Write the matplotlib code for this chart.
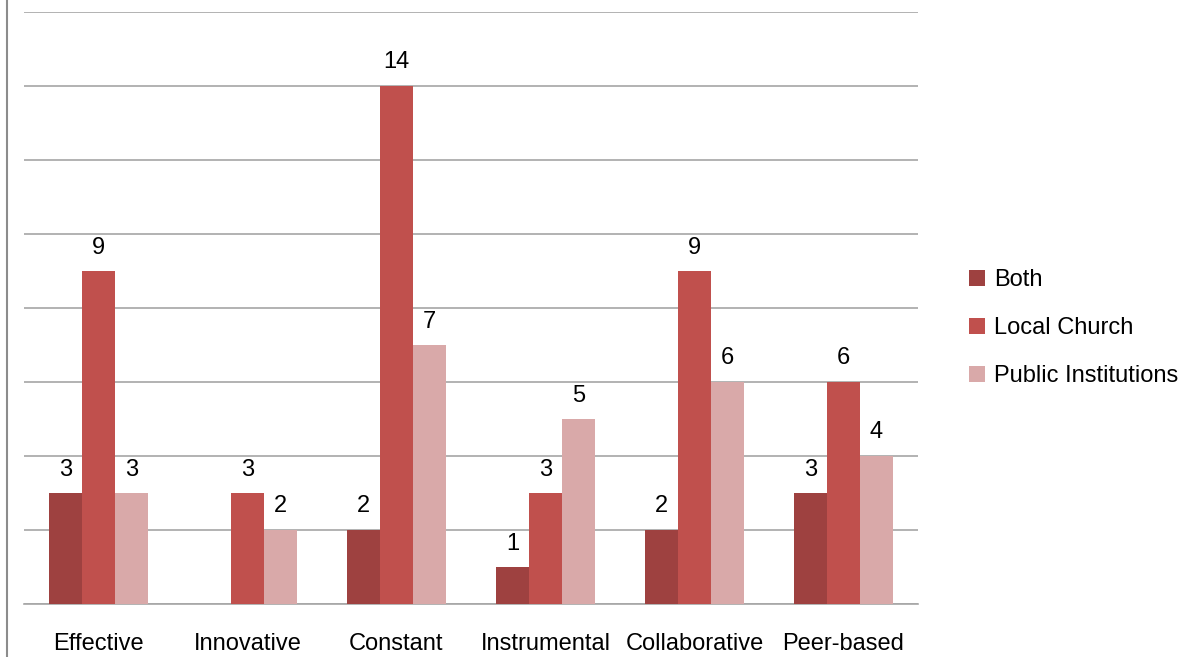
import matplotlib.pyplot as plt
import numpy as np

categories = ["Effective", "Innovative", "Constant", "Instrumental", "Collaborative", "Peer-based"]
both = [3, 0, 2, 1, 2, 3]
local_church = [9, 3, 14, 3, 9, 6]
public_inst = [3, 2, 7, 5, 6, 4]

series_names = ["Both", "Local Church", "Public Institutions"]
colors = ["#9E4140", "#C0504D", "#D9A9A9"]

plt.rcParams['font.family'] = ['Liberation Sans', 'DejaVu Sans']

fig = plt.figure(figsize=(11.97, 6.57), dpi=100)
ax = fig.add_axes([24 / 1197, 53 / 657, 894 / 1197, 592 / 657])

x = np.arange(len(categories))
width = 0.22
for k, (vals, name, col) in enumerate(zip([both, local_church, public_inst], series_names, colors)):
    pos = x + (k - 1) * width
    bars = ax.bar(pos, vals, width, color=col, label=name, zorder=3)
    for b, v in zip(bars, vals):
        if v == 0:
            continue
        ax.annotate(str(v), (b.get_x() + b.get_width() / 2, v), xytext=(0, 9),
                    textcoords="offset points", ha="center", va="bottom", fontsize=17)

ax.set_xlim(-0.5, len(categories) - 0.5)
ax.set_ylim(0, 16)
ax.set_yticks(np.arange(0, 17, 2))
ax.set_yticklabels([])
ax.tick_params(axis="both", length=0)
ax.set_xticks(x)
ax.set_xticklabels(categories, fontsize=17)
ax.tick_params(axis="x", pad=21)
ax.grid(axis="y", color="#A6A6A6", linewidth=1.2, zorder=0)
for s in ["top", "right", "left"]:
    ax.spines[s].set_visible(False)
ax.spines["bottom"].set_color("#A6A6A6")
ax.spines["bottom"].set_linewidth(1.2)

# thin frame line on the left edge of the figure
fig.add_artist(plt.Line2D([7 / 1197, 7 / 1197], [0, 1], transform=fig.transFigure,
                          color="#8C8C8C", linewidth=1.5))

fig.legend(loc="center left", bbox_to_anchor=(948 / 1197, 1 - 328 / 657), frameon=False,
           fontsize=17, handlelength=0.65, handleheight=0.65, handletextpad=0.4,
           labelspacing=1.1)

fig.savefig("out.png", dpi=100)
